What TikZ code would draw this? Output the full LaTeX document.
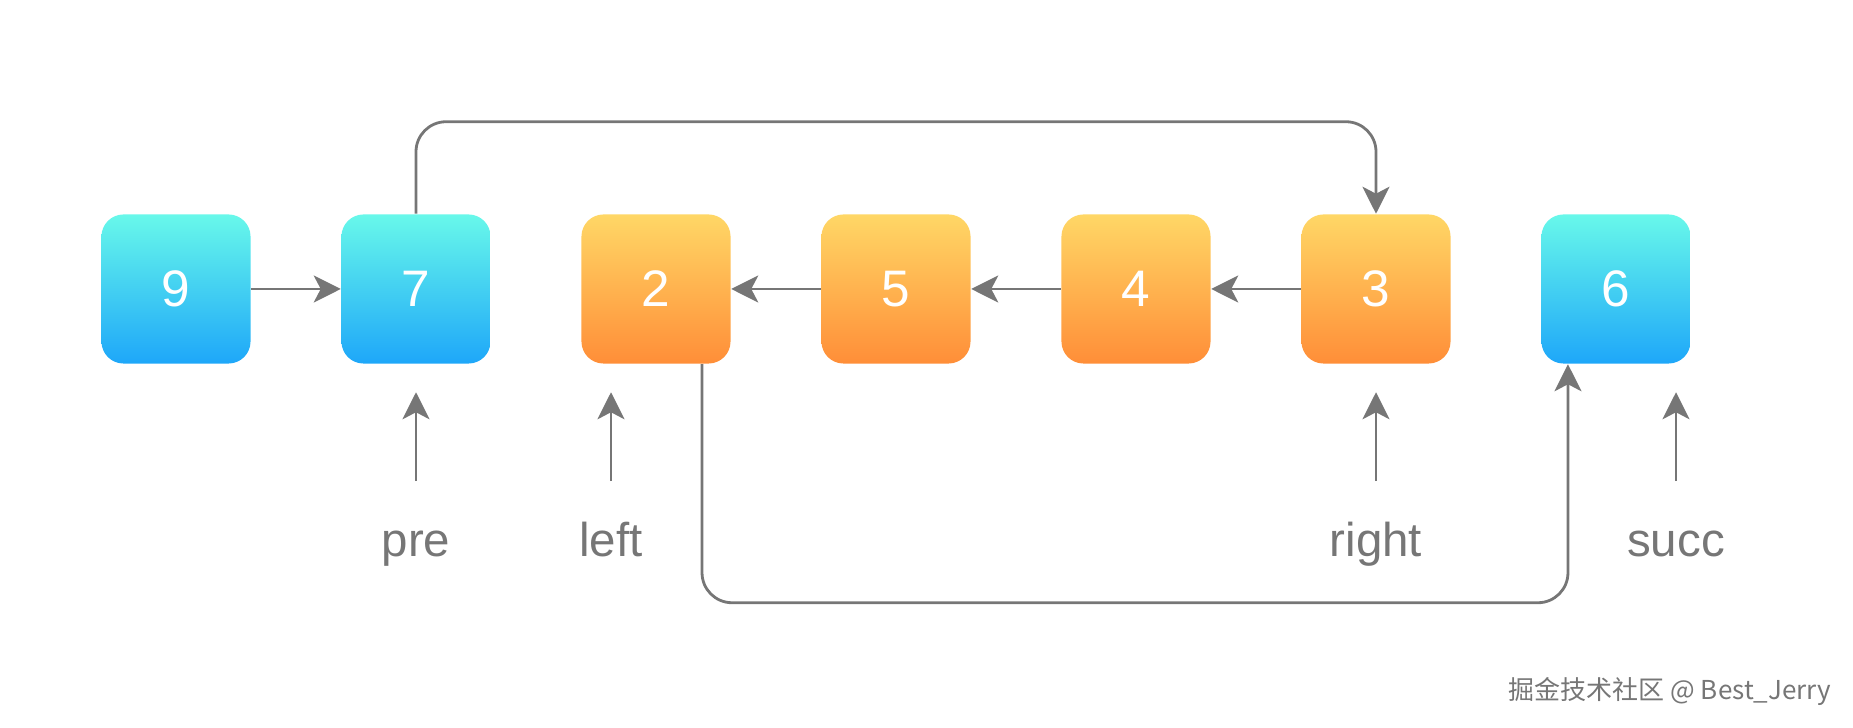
\documentclass[tikz,border=0pt]{standalone}
\usepackage{fontspec}
\setmainfont{Liberation Sans}
\newfontfamily\cjkfont{Noto Sans CJK SC}
\usetikzlibrary{arrows.meta}
\definecolor{linegray}{HTML}{767676}
\definecolor{cyantop}{HTML}{68F8EA}
\definecolor{bluebot}{HTML}{1EA7F9}
\definecolor{yellowtop}{HTML}{FFD766}
\definecolor{orangebot}{HTML}{FF8E38}
\begin{document}
\begin{tikzpicture}[x=0.01cm,y=-0.01cm,
    box/.style={rounded corners=0.22cm, minimum size=1.49cm, inner sep=0pt,
        text=white, font=\fontsize{14.6}{16}\selectfont},
    bluebox/.style={box, top color=cyantop, bottom color=bluebot},
    orangebox/.style={box, top color=yellowtop, bottom color=orangebot},
    link/.style={draw=linegray, line width=0.028cm,
        -{Stealth[length=0.27cm,width=0.27cm,inset=0.07cm]}},
    tag/.style={text=linegray, font=\fontsize{13.5}{16}\selectfont,
        inner sep=0pt, text height=0.35cm, text depth=0.1cm, anchor=base}]
    \useasboundingbox (0,0) rectangle (1853,728);

    % Blue nodes (outside the reversed part) and orange nodes (reversed part)
    \foreach \v/\i in {9/0, 7/1, 6/6} {
        \node[bluebox] (n\v) at ({176+240*\i}, 289) {\v};
    }
    \foreach \v/\i in {2/2, 5/3, 4/4, 3/5} {
        \node[orangebox] (n\v) at ({176+240*\i}, 289) {\v};
    }

    % Next pointers
    \draw[link] (n9) -- (n7);
    \draw[link] (n5) -- (n2);
    \draw[link] (n4) -- (n5);
    \draw[link] (n3) -- (n4);
    \draw[link, rounded corners=0.3cm] (n7.north) -- ++(0,-92) -| (n3.north);
    \draw[link, rounded corners=0.3cm] ([xshift=0.46cm]n2.south) -- ++(0,238.5)
        -| ([xshift=-0.48cm]n6.south);

    % Pointer labels
    \foreach \name/\x in {pre/416, left/611, right/1376, succ/1676} {
        \node[tag] (\name) at (\x, 557) {\name};
        \draw[link] ([yshift=0.4cm]\name.north) -- ++(0,-89);
    }

    \node[anchor=east, inner sep=0pt, text=linegray,
        font=\cjkfont\fontsize{7.4}{9}\selectfont]
        (mark) at (1832, 692) {掘金技术社区 @ Best\_Jerry};
\end{tikzpicture}
\end{document}
